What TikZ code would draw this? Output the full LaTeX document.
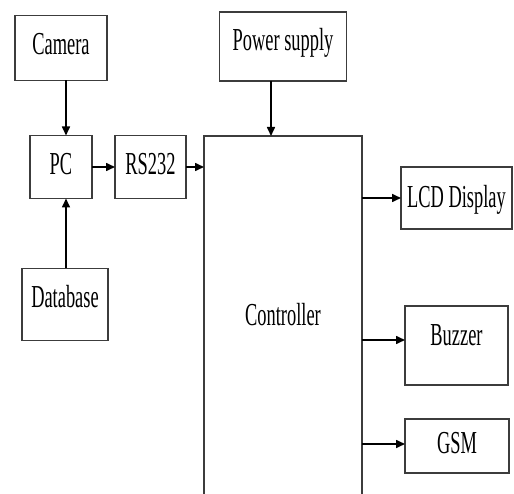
\documentclass[tikz,border=0pt]{standalone}
\usepackage{fontspec}
\setmainfont{Liberation Serif}
\usepackage{graphicx}
\usepackage{tikz}
\usetikzlibrary{arrows.meta, positioning}
\definecolor{boxgray}{RGB}{60,60,60}
\newcommand{\blocktext}[1]{\scalebox{0.575}[1]{#1}}

\begin{document}
\begin{tikzpicture}[
    x=1pt, y=-1pt,
    node distance=55pt and 23pt,
    block/.style={
        rectangle,
        draw=boxgray,
        line width=1.5pt,
        fill=white,
        outer sep=0pt,
        align=center,
        text height=21pt,
        font=\fontsize{32}{34}\selectfont
    },
    arrow/.style={-{Triangle[length=9pt,width=8pt]}, line width=1.6pt, color=black}
]
\useasboundingbox (0,0) rectangle (514,494);
\clip (0,0) rectangle (514,494);

% input side
\node[block, minimum width=62pt, minimum height=63pt, text depth=5.5pt] (pc) at (61,167) {\blocktext{PC}};
\node[block, right=of pc, minimum width=71pt, minimum height=63pt, text depth=5.5pt] (rs232) {\blocktext{RS232}};
\node[block, above=of pc, minimum width=92pt, minimum height=65pt, text depth=7.5pt] (camera) {\blocktext{Camera}};
\node[block, below=70pt of pc, xshift=4pt, minimum width=86pt, minimum height=72pt, text depth=15.5pt] (database) {\blocktext{Database}};

% controller and supply
\node[block, anchor=north west, minimum width=158pt, minimum height=389pt, text depth=30.5pt] (ctrl) at (204,136) {\blocktext{Controller}};
\node[block, above=of ctrl, minimum width=127pt, minimum height=69pt, text depth=13.5pt] (power) {\blocktext{Power supply}};

% output side
\node[block, minimum width=111pt, minimum height=62pt, text depth=1.5pt] (lcd) at (456.5,198) {\blocktext{LCD Display}};
\node[block, minimum width=103pt, minimum height=79pt, text depth=21.5pt] (buzzer) at (456.5,345.5) {\blocktext{Buzzer}};
\node[block, minimum width=104pt, minimum height=54pt, text depth=5.5pt] (gsm) at (457,446) {\blocktext{GSM}};

% connection points
\coordinate (camout) at ([xshift=5pt]camera.south);
\coordinate (pcin) at ([xshift=5pt]pc.north);
\coordinate (dbout) at ([xshift=1pt]database.north);
\coordinate (pcdb) at ([xshift=5pt]pc.south);
\coordinate (powout) at ([xshift=-12pt]power.south);
\coordinate (buzin) at ([yshift=5.5pt]buzzer.west);
\coordinate (gsmin) at ([yshift=2pt]gsm.west);

% arrows
\draw[arrow] (camout) -- (pcin);
\draw[arrow] (dbout) -- (pcdb);
\draw[arrow] (pc) -- (rs232);
\draw[arrow] (rs232) -- (rs232 -| ctrl.west);
\draw[arrow] (powout) -- (powout |- ctrl.north);
\draw[arrow] (lcd.west -| ctrl.east) -- (lcd.west);
\draw[arrow] (buzin -| ctrl.east) -- (buzin);
\draw[arrow] (gsmin -| ctrl.east) -- (gsmin);

\end{tikzpicture}
\end{document}
